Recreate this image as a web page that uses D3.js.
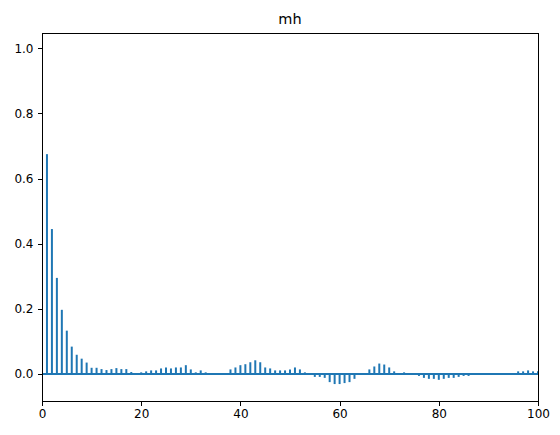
<!DOCTYPE html>
<html>
<head>
<meta charset="utf-8">
<script src="https://cdn.jsdelivr.net/npm/d3@7"></script>
<style>
  html, body { margin: 0; padding: 0; background: #fff; }
  svg { display: block; font-family: "DejaVu Sans", sans-serif; }
</style>
</head>
<body>
<svg id="chart" width="560" height="435"></svg>
<script>
const title = "mh";
const lags = d3.range(1, 101);
const acfValues = [
  0.675, 0.445, 0.295, 0.197, 0.133, 0.084, 0.059, 0.047, 0.035, 0.019,
  0.019, 0.015, 0.012, 0.015, 0.018, 0.015, 0.015, 0.006, 0.001, 0.005,
  0.008, 0.011, 0.011, 0.017, 0.020, 0.017, 0.020, 0.020, 0.027, 0.014,
  0.005, 0.011, 0.005, 0.001, 0.000, -0.001, 0.001, 0.014, 0.020, 0.027,
  0.030, 0.036, 0.042, 0.036, 0.020, 0.017, 0.011, 0.011, 0.011, 0.014,
  0.020, 0.014, 0.005, -0.001, -0.009, -0.009, -0.012, -0.025, -0.031, -0.031,
  -0.028, -0.025, -0.015, -0.002, 0.001, 0.014, 0.023, 0.032, 0.029, 0.020,
  0.008, 0.001, 0.005, 0.000, -0.001, -0.006, -0.012, -0.015, -0.015, -0.018,
  -0.015, -0.012, -0.012, -0.009, -0.006, -0.006, -0.001, 0.000, -0.001, 0.000,
  0.001, 0.000, -0.001, 0.001, 0.002, 0.008, 0.008, 0.011, 0.008, 0.008
];
const xTicks = [0, 20, 40, 60, 80, 100];
const yTicks = [0.0, 0.2, 0.4, 0.6, 0.8, 1.0];
const xDomain = [0, 100];
const yDomain = [-0.083, 1.047];

const color = "#1f77b4";
const margin = { left: 42, right: 22, top: 33, bottom: 34 };
const W = 560, H = 435;
const svg = d3.select("#chart");

const x = d3.scaleLinear().domain(xDomain).range([margin.left, W - margin.right]);
const y = d3.scaleLinear().domain(yDomain).range([H - margin.bottom, margin.top]);

const data = lags.map((l, i) => ({ lag: l, v: acfValues[i] }));

// vertical lines
svg.append("g").selectAll("line").data(data).join("line")
  .attr("x1", d => x(d.lag)).attr("x2", d => x(d.lag))
  .attr("y1", y(0)).attr("y2", d => y(d.v))
  .attr("stroke", color).attr("stroke-width", 2);

// horizontal zero line
svg.append("line")
  .attr("x1", x(xDomain[0])).attr("x2", x(xDomain[1]))
  .attr("y1", y(0)).attr("y2", y(0))
  .attr("stroke", color).attr("stroke-width", 2);

// axes
const xAxis = d3.axisBottom(x).tickValues(xTicks).tickFormat(d3.format("d")).tickSizeOuter(0).tickSize(4.5).tickPadding(4);
const yAxis = d3.axisLeft(y).tickValues(yTicks).tickFormat(d3.format(".1f")).tickSizeOuter(0).tickSize(4.5).tickPadding(4);

const gx = svg.append("g").attr("transform", `translate(0,${H - margin.bottom})`).call(xAxis);
const gy = svg.append("g").attr("transform", `translate(${margin.left},0)`).call(yAxis);
[gx, gy].forEach(g => {
  g.select(".domain").remove();
  g.selectAll(".tick line").attr("stroke", "#000").attr("stroke-width", 1).attr("shape-rendering", "crispEdges");
  g.selectAll(".tick text").attr("fill", "#000").style("font-size", "12px").style("font-family", "DejaVu Sans, sans-serif");
});

// frame
svg.append("rect")
  .attr("x", margin.left).attr("y", margin.top)
  .attr("width", W - margin.left - margin.right)
  .attr("height", H - margin.top - margin.bottom)
  .attr("fill", "none").attr("stroke", "#000").attr("stroke-width", 1)
  .attr("shape-rendering", "crispEdges");

// title
svg.append("text")
  .attr("x", (margin.left + W - margin.right) / 2).attr("y", 24)
  .attr("text-anchor", "middle")
  .style("font-size", "14.5px")
  .attr("fill", "#000")
  .text(title);
</script>
</body>
</html>
